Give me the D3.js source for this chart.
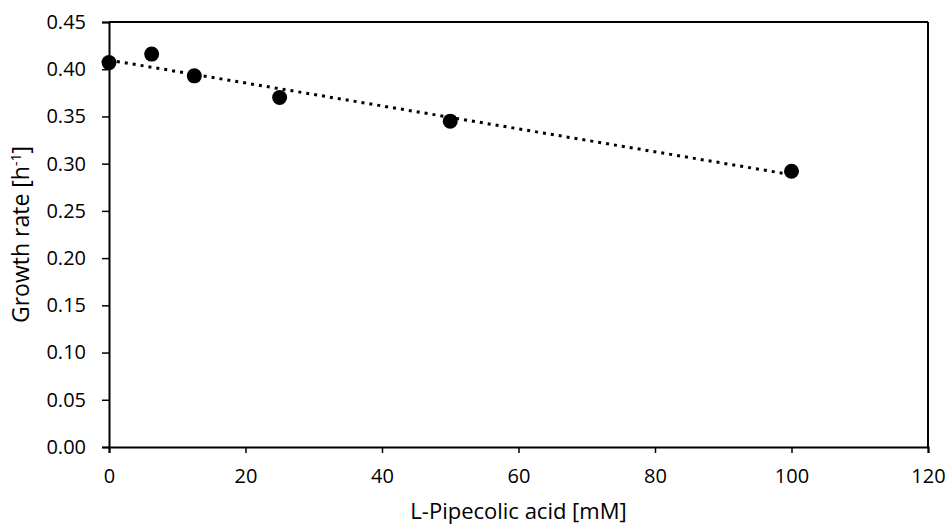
<!DOCTYPE html>
<html>
<head>
<meta charset="utf-8">
<script src="https://cdn.jsdelivr.net/npm/d3@7"></script>
<style>
  html, body { margin: 0; padding: 0; background: #fff; }
  svg { display: block; }
  svg text { font-family: "Open Sans", "Noto Sans", sans-serif; fill: #000; }
</style>
</head>
<body>
<svg id="chart" width="948" height="528"></svg>
<script>
// Growth rate measured at each L-pipecolic acid concentration
const concentrations = [0, 6.25, 12.5, 25, 50, 100];
const growthRates = [0.407, 0.416, 0.393, 0.370, 0.345, 0.292];
const xTicks = [0, 20, 40, 60, 80, 100, 120];
const yTicks = [0, 0.05, 0.10, 0.15, 0.20, 0.25, 0.30, 0.35, 0.40, 0.45];

const svg = d3.select("#chart");
const margin = { left: 109, right: 20, top: 22, bottom: 81 };
const W = 948, H = 528;

const x = d3.scaleLinear().domain([0, 120]).range([margin.left, W - margin.right]);
const y = d3.scaleLinear().domain([0, 0.45]).range([H - margin.bottom, margin.top]);

// Least-squares linear trendline
const n = concentrations.length;
const mx = d3.mean(concentrations), my = d3.mean(growthRates);
let sxy = 0, sxx = 0;
for (let i = 0; i < n; i++) {
  sxy += (concentrations[i] - mx) * (growthRates[i] - my);
  sxx += (concentrations[i] - mx) ** 2;
}
const slope = sxy / sxx, intercept = my - slope * mx;

// Axes
const xAxis = svg.append("g")
  .attr("transform", `translate(0,${y(0)})`)
  .call(d3.axisBottom(x).tickValues(xTicks).tickSize(6).tickPadding(16).tickFormat(d3.format("d")));
const yAxis = svg.append("g")
  .attr("transform", `translate(${x(0)},0)`)
  .call(d3.axisLeft(y).tickValues(yTicks).tickSize(7).tickPadding(16).tickFormat(d3.format(".2f")));

[xAxis, yAxis].forEach(g => {
  g.attr("font-family", null).attr("font-size", null);
  g.select(".domain").attr("stroke", "#000").attr("stroke-width", 2);
  g.selectAll(".tick line").attr("stroke", "#000").attr("stroke-width", 1.5);
  g.selectAll(".tick text").style("font-size", "20px");
});

// Frame: top and right edges
svg.append("line")
  .attr("x1", x(0)).attr("x2", x(120)).attr("y1", y(0.45)).attr("y2", y(0.45))
  .attr("stroke", "#000").attr("stroke-width", 2);
svg.append("line")
  .attr("x1", x(120)).attr("x2", x(120)).attr("y1", y(0.45)).attr("y2", y(0))
  .attr("stroke", "#000").attr("stroke-width", 2);

// Trendline
svg.append("line")
  .attr("x1", x(0)).attr("y1", y(intercept))
  .attr("x2", x(100)).attr("y2", y(intercept + slope * 100))
  .attr("stroke", "#000").attr("stroke-width", 3)
  .attr("stroke-dasharray", "3 5");

// Data points
svg.append("g").selectAll("circle")
  .data(concentrations.map((c, i) => [c, growthRates[i]]))
  .join("circle")
  .attr("cx", d => x(d[0]))
  .attr("cy", d => y(d[1]))
  .attr("r", 7.5)
  .attr("fill", "#000");

// Axis titles
svg.append("text")
  .attr("x", (x(0) + x(120)) / 2).attr("y", 519)
  .attr("text-anchor", "middle")
  .style("font-size", "22px")
  .text("L-Pipecolic acid [mM]");

const yt = svg.append("text")
  .attr("transform", `translate(29,${(y(0) + y(0.45)) / 2}) rotate(-90)`)
  .attr("text-anchor", "middle")
  .style("font-size", "23px");
yt.append("tspan").text("Growth rate [h");
yt.append("tspan").attr("dy", -8).style("font-size", "14px").text("-1");
yt.append("tspan").attr("dy", 8).text("]");
</script>
</body>
</html>
